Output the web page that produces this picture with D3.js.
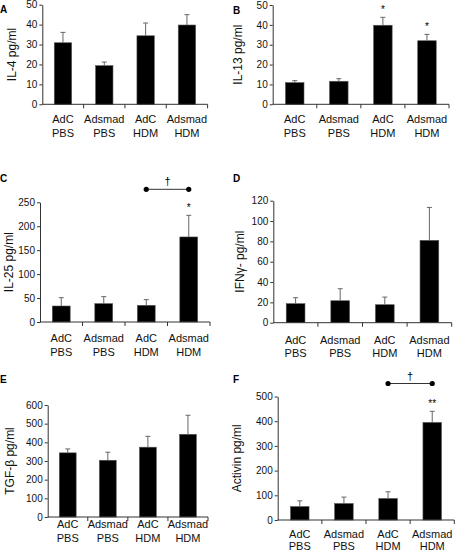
<!DOCTYPE html>
<html><head><meta charset="utf-8">
<script src="https://cdn.jsdelivr.net/npm/d3@7"></script>
<style>body{margin:0;background:#fff}svg{display:block}text{font-family:"Liberation Sans",Arial,sans-serif}</style>
</head><body>
<script>
const categories = [["AdC","PBS"],["Adsmad","PBS"],["AdC","HDM"],["Adsmad","HDM"]];
const il4 = [30.9, 19.4, 34.4, 39.8];
const il4Err = [5.2, 1.8, 6.4, 5.2];
const il13 = [10.9, 11.6, 39.8, 32.0];
const il13Err = [1.0, 1.3, 4.0, 3.2];
const il25 = [33.4, 38.3, 34.8, 177.6];
const il25Err = [17.4, 14.6, 11.9, 45.2];
const ifng = [18.7, 21.6, 17.7, 81.0];
const ifngErr = [5.9, 11.8, 7.5, 32.4];
const tgfb = [343.6, 304, 374, 443];
const tgfbErr = [21, 43, 58, 102];
const activin = [54.5, 66.8, 87.2, 395];
const activinErr = [23, 26, 27, 45];
const yMaxes = [50, 50, 250, 120, 600, 500];
const yTickSteps = [10, 10, 50, 20, 100, 100];
const titles = ["IL-4 pg/ml","IL-13 pg/ml","IL-25 pg/ml","IFNγ- pg/ml","TGF-β pg/ml","Activin pg/ml"];
const letters = ["A","B","C","D","E","F"];
const stars = [["","","",""],["","","*","*"],["","","","*"],["","","",""],["","","",""],["","","","**"]];
const brackets = [null,null,[2,3],null,null,[2,3]];

const panelData = [[il4,il4Err],[il13,il13Err],[il25,il25Err],[ifng,ifngErr],[tgfb,tgfbErr],[activin,activinErr]];
const layout = [
 {x0:42.3,x1:207.6,yt:4.7,yb:104.3,tx:12,lx:0,ly:13,lab:19,sp:13.5},
 {x0:272.7,x1:449,yt:5,yb:104.3,tx:238,lx:233,ly:14,lab:19,sp:13.5},
 {x0:40,x1:210,yt:202.3,yb:322,tx:9,lx:0,ly:182,lab:20,sp:13.5},
 {x0:273.3,x1:451.7,yt:200.7,yb:322.7,tx:240,lx:233,ly:182,lab:21,sp:13.5},
 {x0:47.7,x1:208,yt:405,yb:517,tx:10,lx:0,ly:383,lab:11,sp:13.5},
 {x0:277.7,x1:454.3,yt:396.5,yb:520,tx:237,lx:233,ly:383,lab:17.5,sp:12.5}
];

const svg = d3.select("body").append("svg").attr("width",461).attr("height",552);
const keys = categories.map(c=>c.join(" "));

panelData.forEach(([vals, errs], i) => {
  const L = layout[i];
  const g = svg.append("g");
  const x = d3.scaleBand().domain(keys).range([L.x0, L.x1]).paddingInner(0.58).paddingOuter(0.29);
  const y = d3.scaleLinear().domain([0, yMaxes[i]]).range([L.yb, L.yt]);
  const bw = x.bandwidth();
  g.selectAll("rect.bar").data(vals).join("rect").attr("class","bar")
    .attr("x",(d,j)=>x(keys[j])).attr("width",bw)
    .attr("y",d=>y(d)).attr("height",d=>y(0)-y(d))
    .attr("fill","#000").attr("stroke","#555").attr("stroke-width",0.6);
  g.selectAll("line.err").data(vals).join("line").attr("class","err")
    .attr("x1",(d,j)=>x(keys[j])+bw/2).attr("x2",(d,j)=>x(keys[j])+bw/2)
    .attr("y1",d=>y(d)).attr("y2",(d,j)=>y(d+errs[j])).attr("stroke","#666").attr("stroke-width",1);
  g.selectAll("line.cap").data(vals).join("line").attr("class","cap")
    .attr("x1",(d,j)=>x(keys[j])+bw/2-2.5).attr("x2",(d,j)=>x(keys[j])+bw/2+2.5)
    .attr("y1",(d,j)=>y(d+errs[j])).attr("y2",(d,j)=>y(d+errs[j])).attr("stroke","#666").attr("stroke-width",1);
  g.selectAll("text.star").data(vals).join("text").attr("class","star")
    .attr("x",(d,j)=>x(keys[j])+bw/2).attr("y",(d,j)=>y(d+errs[j])-10+5.5)
    .attr("text-anchor","middle").attr("font-size",10).attr("fill","#000").text((d,j)=>stars[i][j]);
  const yAxis = d3.axisLeft(y).tickValues(d3.range(0, yMaxes[i]+0.001, yTickSteps[i])).tickSize(3).tickPadding(2).tickSizeOuter(0);
  const ya = g.append("g").attr("transform",`translate(${L.x0},0)`).call(yAxis);
  ya.selectAll("text").attr("font-size",10).attr("fill","#111").style("font-family","Liberation Sans, Arial, sans-serif");
  ya.selectAll("line,path").attr("stroke","#333");
  const bounds = keys.map(k=>x(k)-x.step()*x.paddingInner()/2).concat([L.x1]);
  g.append("line").attr("x1",L.x0).attr("x2",L.x1).attr("y1",L.yb).attr("y2",L.yb).attr("stroke","#333");
  g.selectAll("line.xt").data(bounds.slice(1)).join("line").attr("class","xt")
    .attr("x1",d=>d).attr("x2",d=>d).attr("y1",L.yb).attr("y2",L.yb+4).attr("stroke","#333");
  const lab = g.selectAll("text.cat").data(categories).join("text").attr("class","cat")
    .attr("text-anchor","middle").attr("font-size",11).attr("fill","#111");
  lab.each(function(c,j){
    const t = d3.select(this);
    c.forEach((line,k)=>t.append("tspan").attr("x",x(keys[j])+bw/2).attr("y",L.yb+L.lab+k*L.sp).text(line));
  });
  g.append("text").attr("transform",`translate(${L.tx},${(L.yt+L.yb)/2}) rotate(-90)`)
    .attr("text-anchor","middle").attr("dominant-baseline","central").attr("font-size",12).attr("fill","#111").text(titles[i]);
  g.append("text").attr("x",L.lx).attr("y",L.ly).attr("font-size",10).attr("font-weight","bold").text(letters[i]);
  if (brackets[i]) {
    const [a,b] = brackets[i];
    const xa = x(keys[a])+bw/2, xb = x(keys[b])+bw/2;
    const by = L.yt - 13;
    g.append("line").attr("x1",xa).attr("x2",xb).attr("y1",by).attr("y2",by).attr("stroke","#333");
    g.selectAll("circle.bd").data([xa,xb]).join("circle").attr("class","bd").attr("cx",d=>d).attr("cy",by).attr("r",2.6).attr("fill","#000");
    g.append("text").attr("x",(xa+xb)/2).attr("y",by-4).attr("text-anchor","middle").attr("font-size",11).text("†");
  }
});
</script>
</body></html>
